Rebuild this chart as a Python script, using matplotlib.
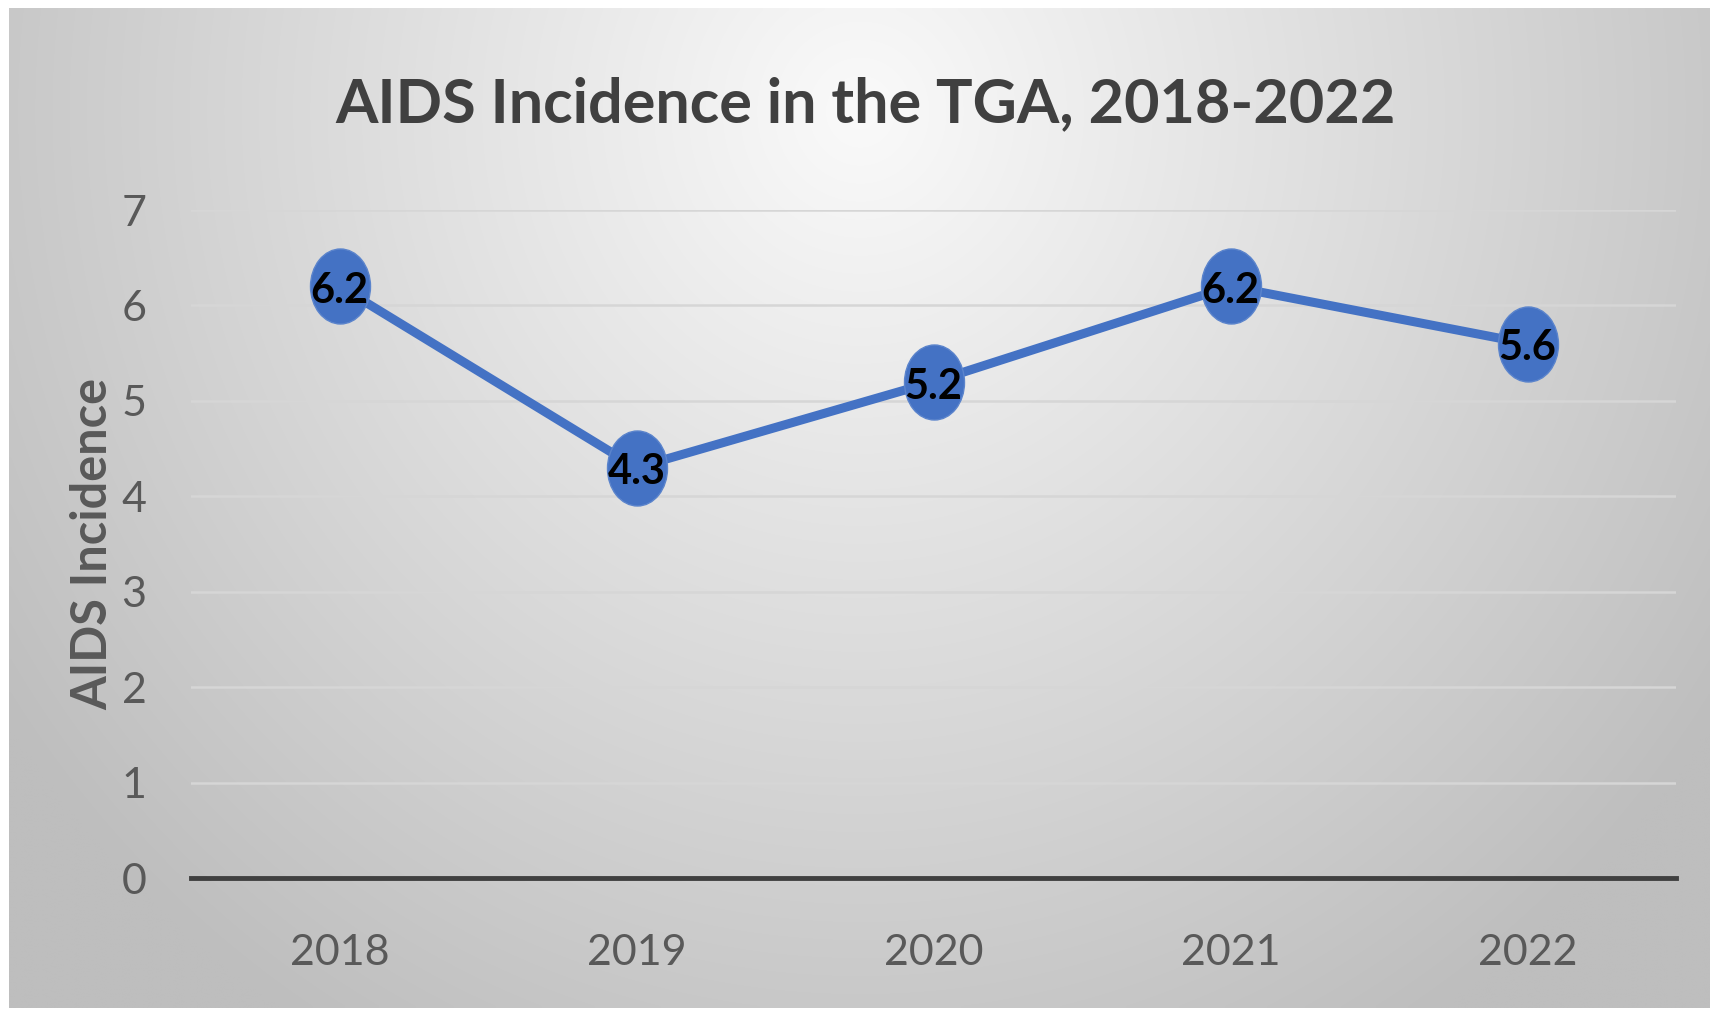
import numpy as np
import matplotlib
matplotlib.use("Agg")
from matplotlib import pyplot as plt
from matplotlib.path import Path
from matplotlib.transforms import Affine2D

years = ["2018", "2019", "2020", "2021", "2022"]
incidence = [6.2, 4.3, 5.2, 6.2, 5.6]
y_ticks = [0, 1, 2, 3, 4, 5, 6, 7]

plt.rcParams['font.family'] = ['Lato', 'DejaVu Sans']

W, H = 1710, 1010
fig = plt.figure(figsize=(W / 100, H / 100), dpi=100)
fig.patch.set_facecolor("white")

# grey radial gradient panel behind everything
bg = fig.add_axes([9 / W, 2 / H, 1 - 9 / W, (1008 - 8) / H])
bg.set_axis_off()
xx, yy = np.meshgrid(np.linspace(9, W, 400), np.linspace(8, 1008, 240))
d = np.hypot((xx - 860) / 1.0, (yy - 110) / 1.05)
shade = np.clip(250 - 54 * d / 930, 190, 252) / 255
bg.imshow(np.dstack([shade, shade, shade]), aspect="auto",
          extent=[0, 1, 0, 1], origin="upper", interpolation="bilinear")
bg.set_xlim(0, 1)
bg.set_ylim(0, 1)

ax = fig.add_axes([191 / W, (H - 878) / H, (1676 - 191) / W, (878 - 210) / H])
ax.patch.set_alpha(0)
x = np.arange(len(years))

ax.set_xlim(-0.5, len(years) - 0.5)
ax.set_ylim(0, 7)
ax.set_yticks(y_ticks)
ax.set_xticks(x)
ax.set_xticklabels(years)
ax.yaxis.grid(True, color="#d6d6d6", lw=1.8)
ax.set_axisbelow(True)
for s in ["top", "right", "left"]:
    ax.spines[s].set_visible(False)
ax.spines["bottom"].set_color("#404040")
ax.spines["bottom"].set_linewidth(3.5)
ax.tick_params(axis="both", length=0, labelsize=31, labelcolor="#595959")
ax.tick_params(axis="y", pad=32)
ax.tick_params(axis="x", pad=40)

# slightly tall oval markers
oval = Path.unit_circle().transformed(Affine2D().scale(0.8, 1.0))
ax.plot(x, incidence, color="#4472C4", lw=6.5, marker=oval, markersize=54,
        markerfacecolor="#4472C4", markeredgecolor="#5b84cc", markeredgewidth=1,
        solid_capstyle="round", zorder=3)
for xi, v in zip(x, incidence):
    ax.text(xi, v - 0.05, f"{v}", ha="center", va="center", fontsize=30,
            fontweight="bold", color="black", zorder=4)

ax.set_ylabel("AIDS Incidence", fontsize=35, fontweight="bold", color="#595959")
ax.yaxis.set_label_coords(-0.051, 0.5)

fig.text(866 / W, 1 - 104 / H, "AIDS Incidence in the TGA, 2018-2022",
         ha="center", va="center", fontsize=44, fontweight="bold", color="#404040")

fig.savefig("out.png", dpi=100)
